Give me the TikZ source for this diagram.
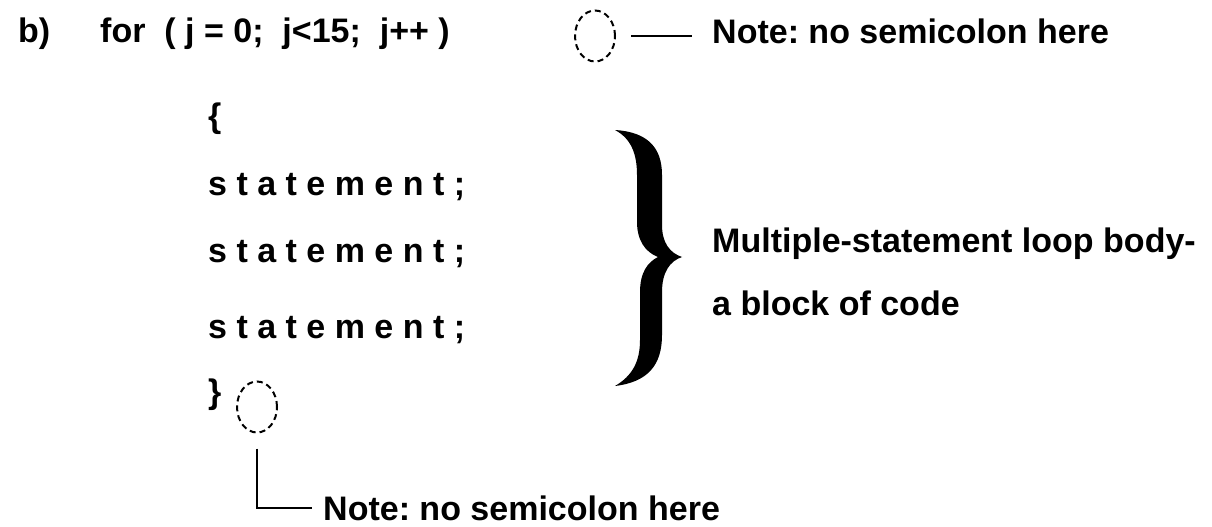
\documentclass[tikz,border=0pt]{standalone}
\usepackage{fontspec}
\setmainfont{Liberation Sans}
\usetikzlibrary{shapes.geometric}
\frenchspacing
\begin{document}
\begin{tikzpicture}[x=1pt,y=-1pt,
  txt/.style={anchor=base west,inner sep=0pt,font=\fontsize{34}{40}\selectfont\bfseries},
  dashell/.style={ellipse,draw,line width=2pt,dash pattern=on 6pt off 4pt,minimum width=40pt,minimum height=51pt,inner sep=0pt},
  ln/.style={line width=1.5pt}]
\useasboundingbox (0,0) rectangle (1212,527);
\node[txt] (lab) at (18,43) {b)};
\node[txt] (for) at (100,43) {for~~( j = 0;~~j<15;~~j++ )};
\node[dashell] (e1) at (595,36) {};
\node[txt] (n1) at (712,44) {Note: no semicolon here};
\draw[ln] ([xshift=15pt]e1.east) -- ([xshift=-20pt]e1.east -| n1.west);
\node[txt] (ob) at (208,127) {\{};
\node[txt] (s1) at (208,195) {s t a t e m e n t ;};
\node[txt] (s2) at (208,262) {s t a t e m e n t ;};
\node[txt] (s3) at (208,338) {s t a t e m e n t ;};
\node[txt] (cb) at (208,403) {\}};
\node[dashell] (e2) at (257,407) {};
\node[txt] (n2) at (323,520) {Note: no semicolon here};
\coordinate (c2) at ([yshift=-15pt]e2.south);
\coordinate (c3) at ([yshift=12pt]c2 |- n2.base);
\draw[ln] (c2) -- (c3) -- ([xshift=-11pt]c3 -| n2.west);
\fill (615,130)
  .. controls (648,132) and (662,148) .. (662,175)
  -- (662,225)
  .. controls (662,243) and (670,253) .. (682,257)
  .. controls (670,261) and (662,272) .. (662,292)
  -- (662,335)
  .. controls (662,365) and (648,382) .. (615,386)
  .. controls (632,376) and (640,362) .. (640,340)
  -- (640,292)
  .. controls (640,272) and (648,262) .. (658,257)
  .. controls (645,252) and (637,240) .. (637,222)
  -- (637,175)
  .. controls (637,152) and (630,138) .. (615,130) -- cycle;
\node[txt] (m1) at (712,252) {Multiple-statement loop body-};
\node[txt] (m2) at (712,315) {a block of code};
\end{tikzpicture}
\end{document}
